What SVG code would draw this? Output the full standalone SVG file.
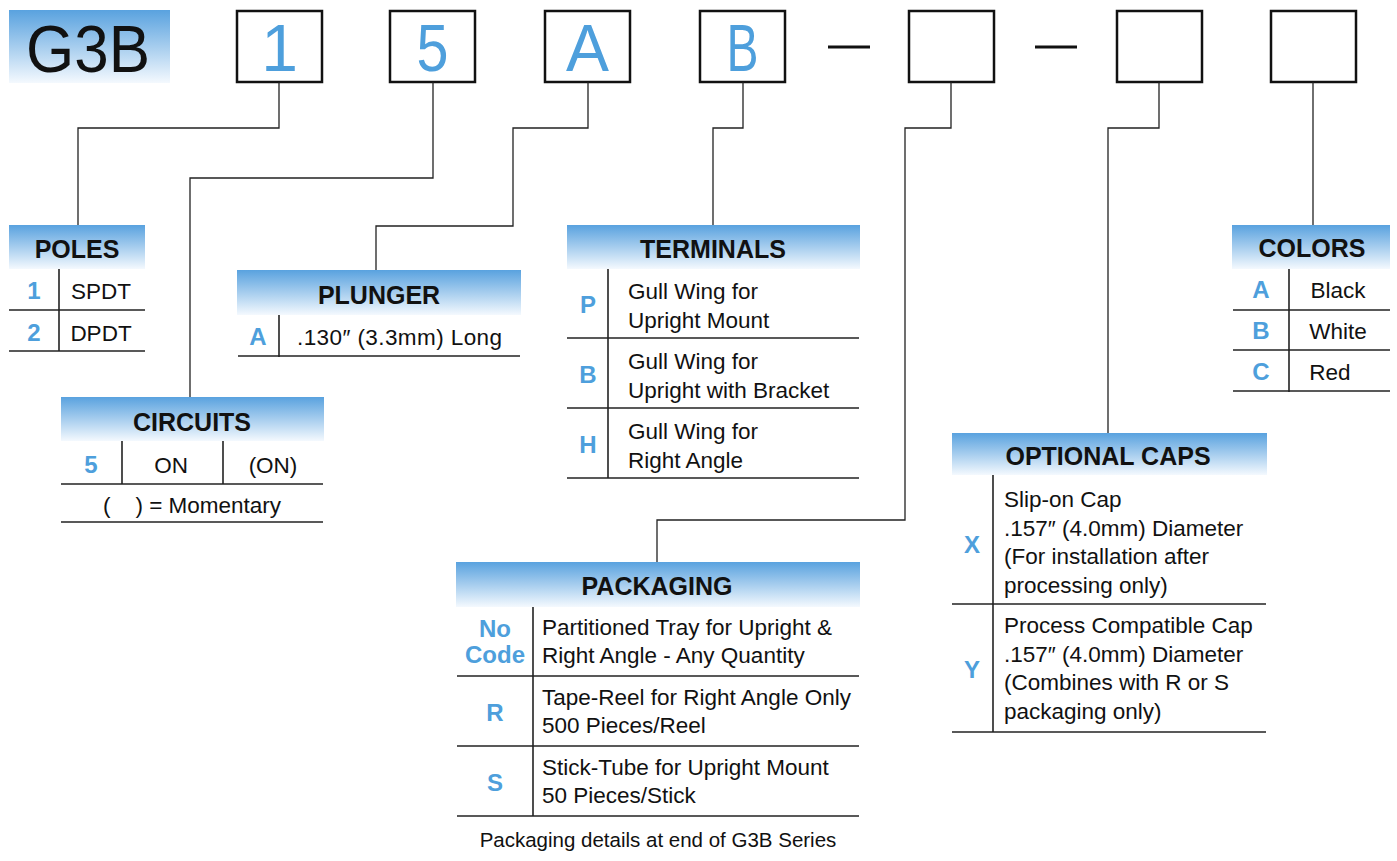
<svg xmlns="http://www.w3.org/2000/svg" width="1397" height="861" viewBox="0 0 1397 861">
<defs>
<linearGradient id="hg" x1="0" y1="0" x2="0" y2="1">
<stop offset="0" stop-color="#59a2df"/>
<stop offset="0.5" stop-color="#a6cdee"/>
<stop offset="1" stop-color="#f4f9fe"/>
</linearGradient>
</defs>
<style>
text{font-family:"Liberation Sans",Arial,sans-serif;fill:#111}
.hdr{fill:url(#hg)}
.ht{font-weight:bold;font-size:25px;text-anchor:middle}
.b{font-size:22.5px}
.c{text-anchor:middle}
.code{font-weight:bold;font-size:24px;fill:#4e9fdc;text-anchor:middle}
.big{font-size:66px;fill:#4e9fdc;text-anchor:middle}
.box{fill:#fff;stroke:#111;stroke-width:2.5}
.rule{stroke:#222;stroke-width:1.6;fill:none}
.conn{stroke:#222;stroke-width:1.3;fill:none}
.dash{stroke:#111;stroke-width:3}
</style>
<rect width="1397" height="861" fill="#fff"/>

<g id="title">
<rect class="hdr" x="9" y="10" width="161" height="73"/>
<text x="88" y="72" font-size="66" text-anchor="middle" textLength="124" lengthAdjust="spacingAndGlyphs">G3B</text>
</g>

<g id="code-boxes">
<g id="box-1"><rect class="box" x="237" y="11" width="85" height="71"/><text class="big" x="279.5" y="71">1</text></g>
<g id="box-5"><rect class="box" x="390" y="11" width="85" height="71"/><text class="big" x="432.5" y="71" textLength="32" lengthAdjust="spacingAndGlyphs">5</text></g>
<g id="box-A"><rect class="box" x="545" y="11" width="85" height="71"/><text class="big" x="587.5" y="71" textLength="43" lengthAdjust="spacingAndGlyphs">A</text></g>
<g id="box-B"><rect class="box" x="700" y="11" width="85" height="71"/><text class="big" x="742.5" y="71" textLength="32" lengthAdjust="spacingAndGlyphs">B</text></g>
<line class="dash" x1="828" y1="47" x2="870" y2="47"/>
<g id="box-pack"><rect class="box" x="909" y="11" width="85" height="71"/></g>
<line class="dash" x1="1035" y1="47" x2="1077" y2="47"/>
<g id="box-caps"><rect class="box" x="1117" y="11" width="85" height="71"/></g>
<g id="box-color"><rect class="box" x="1271" y="11" width="85" height="71"/></g>
</g>

<g id="connectors">
<polyline class="conn" points="279,82 279,128 78,128 78,225"/>
<polyline class="conn" points="433,82 433,178 190,178 190,397"/>
<polyline class="conn" points="588,82 588,128 513,128 513,226 376,226 376,270"/>
<polyline class="conn" points="743,82 743,128 713,128 713,225"/>
<polyline class="conn" points="951,82 951,128 905,128 905,520 657,520 657,562"/>
<polyline class="conn" points="1159,82 1159,128 1108,128 1108,433"/>
<polyline class="conn" points="1313,82 1313,226"/>
</g>

<g id="poles">
<rect class="hdr" x="9" y="225" width="136" height="44"/>
<text class="ht" x="77" y="258">POLES</text>
<line class="rule" x1="59" y1="269" x2="59" y2="351"/>
<line class="rule" x1="9" y1="310" x2="145" y2="310"/>
<line class="rule" x1="9" y1="351" x2="145" y2="351"/>
<text class="code" x="34" y="299">1</text>
<text class="b c" x="101" y="299">SPDT</text>
<text class="code" x="34" y="341">2</text>
<text class="b c" x="101" y="341">DPDT</text>
</g>

<g id="plunger">
<rect class="hdr" x="237" y="270" width="284" height="45"/>
<text class="ht" x="379" y="304">PLUNGER</text>
<line class="rule" x1="279" y1="315" x2="279" y2="357"/>
<line class="rule" x1="238" y1="356" x2="520" y2="356"/>
<text class="code" x="258" y="345">A</text>
<text class="b" x="297" y="345" textLength="205">.130″ (3.3mm) Long</text>
</g>

<g id="circuits">
<rect class="hdr" x="61" y="397" width="263" height="44"/>
<text class="ht" x="192" y="431">CIRCUITS</text>
<line class="rule" x1="122" y1="441" x2="122" y2="484"/>
<line class="rule" x1="223" y1="441" x2="223" y2="484"/>
<line class="rule" x1="61" y1="484" x2="323" y2="484"/>
<line class="rule" x1="61" y1="522" x2="323" y2="522"/>
<text class="code" x="91" y="473">5</text>
<text class="b c" x="171" y="473">ON</text>
<text class="b c" x="273" y="473">(ON)</text>
<text class="b c" x="192" y="513" xml:space="preserve">(    ) = Momentary</text>
</g>

<g id="terminals">
<rect class="hdr" x="567" y="225" width="293" height="44"/>
<text class="ht" x="713" y="258">TERMINALS</text>
<line class="rule" x1="608" y1="269" x2="608" y2="478"/>
<line class="rule" x1="567" y1="338" x2="859" y2="338"/>
<line class="rule" x1="567" y1="408" x2="859" y2="408"/>
<line class="rule" x1="567" y1="478" x2="859" y2="478"/>
<text class="code" x="588" y="313">P</text>
<text class="b" x="628" y="299">Gull Wing for</text>
<text class="b" x="628" y="328">Upright Mount</text>
<text class="code" x="588" y="383">B</text>
<text class="b" x="628" y="369">Gull Wing for</text>
<text class="b" x="628" y="398">Upright with Bracket</text>
<text class="code" x="588" y="453">H</text>
<text class="b" x="628" y="439">Gull Wing for</text>
<text class="b" x="628" y="468">Right Angle</text>
</g>

<g id="colors">
<rect class="hdr" x="1232" y="225" width="158" height="44"/>
<text class="ht" x="1312" y="257">COLORS</text>
<line class="rule" x1="1289" y1="269" x2="1289" y2="392"/>
<line class="rule" x1="1233" y1="310" x2="1390" y2="310"/>
<line class="rule" x1="1233" y1="350" x2="1390" y2="350"/>
<line class="rule" x1="1233" y1="391" x2="1390" y2="391"/>
<text class="code" x="1261" y="298">A</text>
<text class="b c" x="1338" y="298">Black</text>
<text class="code" x="1261" y="339">B</text>
<text class="b c" x="1338" y="339">White</text>
<text class="code" x="1261" y="380">C</text>
<text class="b c" x="1330" y="380">Red</text>
</g>

<g id="optional-caps">
<rect class="hdr" x="952" y="433" width="315" height="42"/>
<text class="ht" x="1108" y="465">OPTIONAL CAPS</text>
<line class="rule" x1="993" y1="475" x2="993" y2="732"/>
<line class="rule" x1="952" y1="604" x2="1266" y2="604"/>
<line class="rule" x1="952" y1="732" x2="1266" y2="732"/>
<text class="code" x="972" y="553">X</text>
<text class="b" x="1004" y="507">Slip-on Cap</text>
<text class="b" x="1004" y="536">.157″ (4.0mm) Diameter</text>
<text class="b" x="1004" y="564">(For installation after</text>
<text class="b" x="1004" y="593">processing only)</text>
<text class="code" x="972" y="678">Y</text>
<text class="b" x="1004" y="633">Process Compatible Cap</text>
<text class="b" x="1004" y="662">.157″ (4.0mm) Diameter</text>
<text class="b" x="1004" y="690">(Combines with R or S</text>
<text class="b" x="1004" y="719">packaging only)</text>
</g>

<g id="packaging">
<rect class="hdr" x="456" y="562" width="404" height="45"/>
<text class="ht" x="657" y="595">PACKAGING</text>
<line class="rule" x1="533" y1="607" x2="533" y2="816"/>
<line class="rule" x1="457" y1="676" x2="859" y2="676"/>
<line class="rule" x1="457" y1="746" x2="859" y2="746"/>
<line class="rule" x1="457" y1="816" x2="859" y2="816"/>
<text class="code" x="495" y="637">No</text>
<text class="code" x="495" y="663">Code</text>
<text class="b" x="542" y="635">Partitioned Tray for Upright &amp;</text>
<text class="b" x="542" y="663">Right Angle - Any Quantity</text>
<text class="code" x="495" y="721">R</text>
<text class="b" x="542" y="705">Tape-Reel for Right Angle Only</text>
<text class="b" x="542" y="733">500 Pieces/Reel</text>
<text class="code" x="495" y="791">S</text>
<text class="b" x="542" y="775">Stick-Tube for Upright Mount</text>
<text class="b" x="542" y="803">50 Pieces/Stick</text>
<text class="c" x="658" y="847" font-size="20.5">Packaging details at end of G3B Series</text>
</g>
</svg>
